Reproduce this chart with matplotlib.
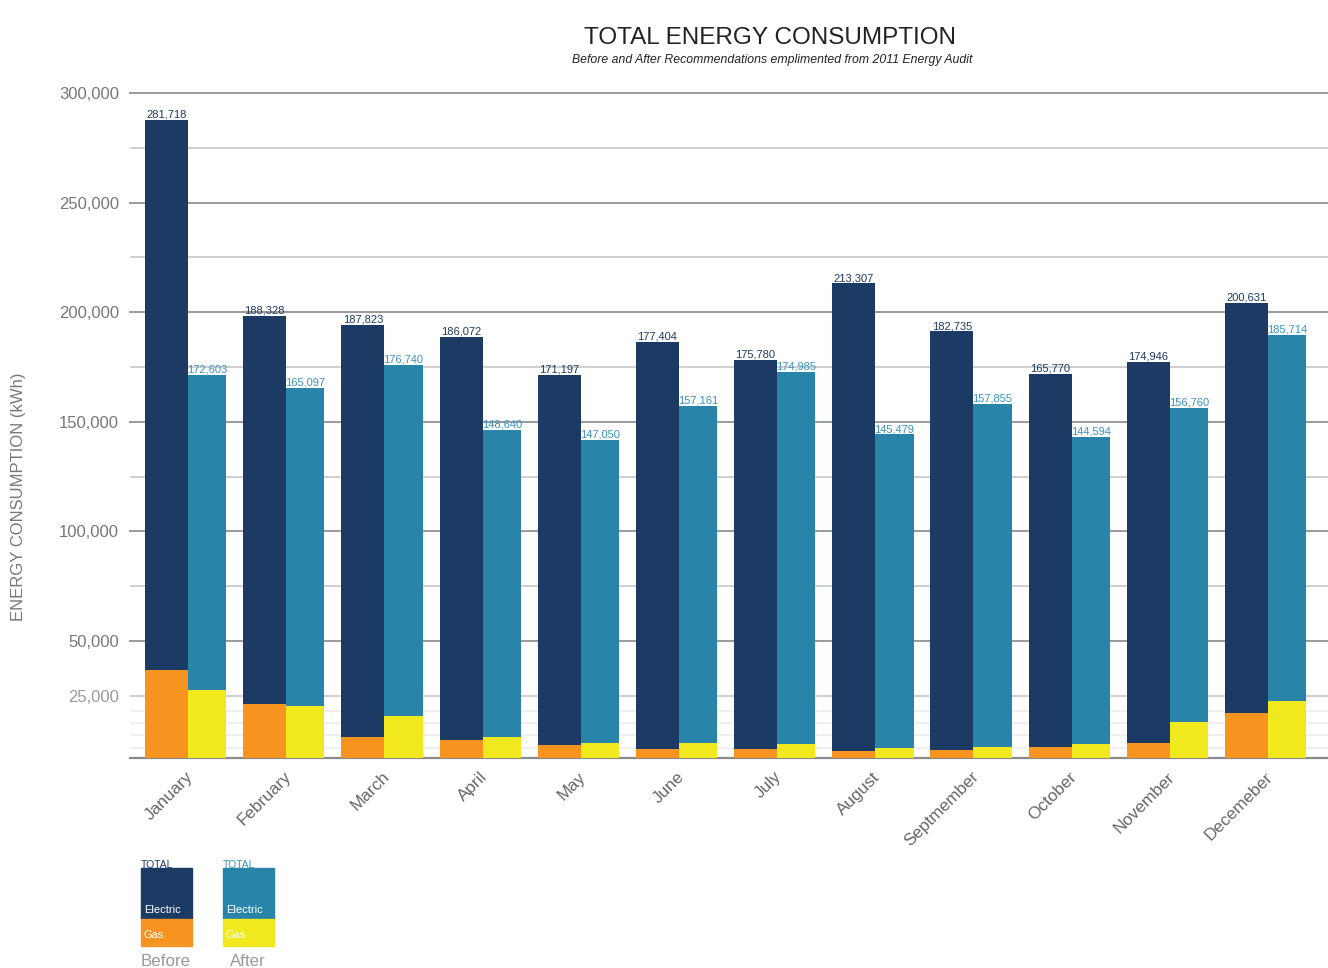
import matplotlib.pyplot as plt
import numpy as np
from matplotlib.patches import Rectangle

plt.rcParams['font.family'] = ['Liberation Sans', 'DejaVu Sans']

# données
months = ['January', 'February', 'March', 'April', 'May', 'June', 'July',
          'August', 'Septmember', 'October', 'November', 'Decemeber']

# bar tops read against the gridlines (kWh)
before_total = [287700, 198300, 194200, 188700, 171400, 186400,
                178200, 213300, 191400, 171800, 177300, 204200]
after_total = [171400, 165400, 175900, 146300, 141700, 157200,
               172800, 144400, 158100, 143100, 156300, 189700]
# gas segment heights from the bottom of the chart (kWh)
before_gas = [40100, 24600, 9600, 8200, 5900, 4100,
              4100, 3200, 3600, 5000, 6800, 20500]
after_gas = [31000, 23700, 19200, 9600, 6800, 6800,
             6400, 4600, 5000, 6400, 16400, 26000]

# printed values above the bars
before_labels = [281718, 188328, 187823, 186072, 171197, 177404,
                 175780, 213307, 182735, 165770, 174946, 200631]
after_labels = [172603, 165097, 176740, 148640, 147050, 157161,
                174985, 145479, 157855, 144594, 156760, 185714]

yticks = [25000, 50000, 100000, 150000, 200000, 250000, 300000]
mid_grid = [25000, 75000, 125000, 175000, 225000, 275000]
fine_grid = [1300, 7000, 12500, 18200]

navy = '#1b3a64'
teal = '#2884a9'
orange = '#f7941f'
yellow = '#f1e91d'

floor = -3400  # the chart's baseline sits a little under zero

before_electric = np.array(before_total) - floor - np.array(before_gas)
after_electric = np.array(after_total) - floor - np.array(after_gas)

fig = plt.figure(figsize=(13.28, 9.68), dpi=100)
ax = fig.add_axes([130 / 1328, 210 / 968, 1 - 130 / 1328, 676 / 968])

x = np.arange(len(months))
wb = 0.438
wa = 0.39

ax.bar(x, before_gas, width=wb, bottom=floor, align='edge', color=orange, zorder=3)
ax.bar(x, before_electric, width=wb, bottom=floor + np.array(before_gas), align='edge',
       color=navy, zorder=3)
ax.bar(x + wb, after_gas, width=wa, bottom=floor, align='edge', color=yellow, zorder=3)
ax.bar(x + wb, after_electric, width=wa, bottom=floor + np.array(after_gas), align='edge',
       color=teal, zorder=3)

narrow = ['Liberation Sans Narrow', 'Liberation Sans', 'DejaVu Sans']
for i in range(len(months)):
    ax.text(x[i] + wb / 2, before_total[i], f'{before_labels[i]:,}', ha='center', va='bottom',
            fontsize=8, color=navy, family=narrow, zorder=4)
    ax.text(x[i] + wb + wa / 2, after_total[i], f'{after_labels[i]:,}', ha='center', va='bottom',
            fontsize=8, color='#3a93bf', family=narrow, zorder=4)

# lignes de grille
for v in fine_grid:
    ax.axhline(v, color='#ececec', lw=1.2, zorder=1)
for v in mid_grid:
    ax.axhline(v, color='#cfcfcf', lw=1.4, zorder=1)
for v in yticks[1:]:
    ax.axhline(v, color='#9a9a9a', lw=1.4, zorder=1, clip_on=False)
ax.axhline(floor, color='#8a8a8a', lw=1.6, zorder=2, clip_on=False)

ax.set_ylim(floor, 305000)
ax.set_xlim(-0.153, 12.05)
ax.set_yticks(yticks)
ax.set_yticklabels([f'{v:,}' for v in yticks], fontsize=12, color='#777777')
ax.get_yticklabels()[0].set_color('#9a9a9a')
ax.tick_params(axis='y', length=0, pad=8)
ax.set_xticks(x + 0.41)
ax.set_xticklabels(months, rotation=45, ha='right', rotation_mode='anchor',
                   fontsize=12.3, color='#666666')
ax.tick_params(axis='x', length=0, pad=8)
for s in ax.spines.values():
    s.set_visible(False)

fig.text(19 / 1328, 1 - 497 / 968, 'ENERGY CONSUMPTION (kWh)', rotation=90,
         ha='center', va='center', fontsize=12, color='#777777')
fig.text(770 / 1328, 1 - 38 / 968, 'TOTAL ENERGY CONSUMPTION', ha='center', va='center',
         fontsize=17.5, color='#222222')
fig.text(772 / 1328, 1 - 60 / 968, 'Before and After Recommendations emplimented from 2011 Energy Audit',
         ha='center', va='center', fontsize=8.8, style='italic', color='#222222')

# légende dessinée à la main
lg = fig.add_axes([0, 0, 1, 1])
lg.set_xlim(0, 1328)
lg.set_ylim(968, 0)
lg.axis('off')
for x0, top_c, bot_c, total_c, name in [(141, navy, orange, navy, 'Before'),
                                        (223, teal, yellow, '#3a93bf', 'After')]:
    lg.add_patch(Rectangle((x0, 868), 51, 51, color=top_c))
    lg.add_patch(Rectangle((x0, 919), 51, 27, color=bot_c))
    lg.text(x0, 870, 'TOTAL', fontsize=7.5, color=total_c, va='bottom', ha='left', zorder=5)
    lg.text(x0 + 3, 910, 'Electric', fontsize=8, color='white', va='center', ha='left')
    lg.text(x0 + 3, 935, 'Gas', fontsize=8, color='white', va='center', ha='left')
    lg.text(x0 + 25, 954, name, fontsize=12.2, color='#999999', va='top', ha='center')

fig.savefig('out.png', dpi=100)
